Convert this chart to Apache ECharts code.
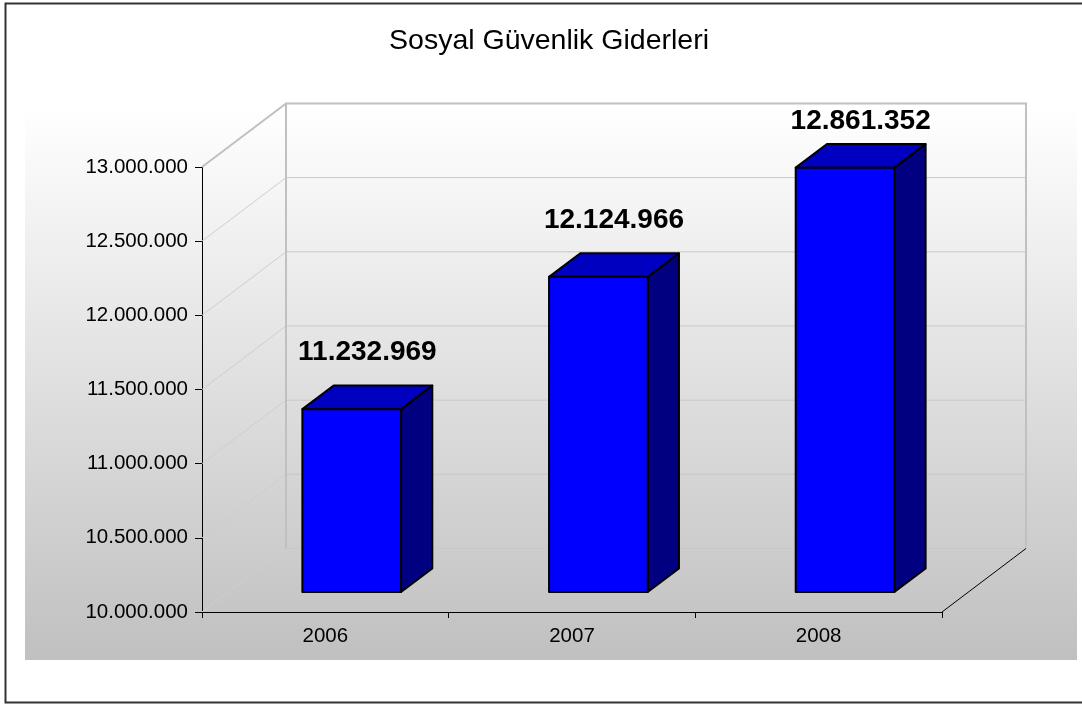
<!DOCTYPE html>
<html>
<head>
<meta charset="utf-8">
<title>Sosyal Güvenlik Giderleri</title>
<script src="https://cdn.jsdelivr.net/npm/echarts@6/dist/echarts.min.js"></script>
<style>
html,body{margin:0;padding:0;background:#fff;}
#chart{width:1082px;height:704px;}
</style>
</head>
<body>
<div id="chart"></div>
<script>
var years = ['2006', '2007', '2008'];
var giderler = [11232969, 12124966, 12861352];
var yMin = 10000000, yMax = 13000000, yStep = 500000;

// 3D derinlik (px) - excel tarzi kutu
var DX = 84, DY = -63.5;
var F1 = 0.314, F2 = 0.686; // bar on yuz / arka yuz derinligi
var FONT = '"Liberation Sans", Arial, sans-serif';

function fmt(v) {
    return String(v).replace(/\B(?=(\d{3})+(?!\d))/g, '.');
}

var chart = echarts.init(document.getElementById('chart'));

// duvarlar ve zemin
function frameItem(params, api) {
    var cs = params.coordSys;
    var x0 = cs.x, x1 = cs.x + cs.width;
    var yTop = api.coord([0, yMax])[1];
    var yBot = api.coord([0, yMin])[1];
    var kids = [];
    for (var v = yMin; v <= yMax; v += yStep) {
        var y = api.coord([0, v])[1];
        kids.push({type: 'line', shape: {x1: x0, y1: y, x2: x0 + DX, y2: y + DY},
            style: {stroke: v === yMax ? '#c0c0c0' : '#cecece', lineWidth: v === yMax ? 2 : 1}});
        if (v < yMax) {
            kids.push({type: 'line', shape: {x1: x0 + DX, y1: y + DY, x2: x1 + DX, y2: y + DY},
                style: {stroke: '#c8c8c8', lineWidth: 1}});
        }
    }
    kids.push({type: 'polyline', shape: {points: [[x0 + DX, yBot + DY], [x0 + DX, yTop + DY], [x1 + DX, yTop + DY], [x1 + DX, yBot + DY]]},
        style: {stroke: '#c0c0c0', lineWidth: 2, fill: null}});
    kids.push({type: 'line', shape: {x1: x1, y1: yBot, x2: x1 + DX, y2: yBot + DY},
        style: {stroke: '#000', lineWidth: 1}});
    return {type: 'group', children: kids};
}

// 3D kutu bar
function barItem(params, api) {
    var i = api.value(0), val = api.value(1);
    var base = api.coord([i, yMin]);
    var top = api.coord([i, val]);
    var w = api.size([1, 0])[0] * 0.4;
    var xl = base[0] - w / 2 + F1 * DX, xr = xl + w;
    var yb = base[1] + F1 * DY, yt = top[1] + F1 * DY;
    var ddx = (F2 - F1) * DX, ddy = (F2 - F1) * DY;
    var ly = Math.max(yt + ddy - 33, params.coordSys.y - 46);
    function st(c) { return {fill: c, stroke: '#000', lineWidth: 2, lineJoin: 'round'}; }
    return {type: 'group', children: [
        {type: 'polygon', shape: {points: [[xr, yt], [xr + ddx, yt + ddy], [xr + ddx, yb + ddy], [xr, yb]]}, style: st('#000080')},
        {type: 'polygon', shape: {points: [[xl, yt], [xr, yt], [xr + ddx, yt + ddy], [xl + ddx, yt + ddy]]}, style: st('#0000c0')},
        {type: 'rect', shape: {x: xl, y: yt, width: w, height: yb - yt}, style: st('#0000ff')},
        {type: 'text', x: xl + w / 2 + ddx / 2, y: ly, style: {
            text: fmt(val), fill: '#000', font: 'bold 28px ' + FONT,
            align: 'center', verticalAlign: 'middle', textAlign: 'center', textVerticalAlign: 'middle'}}
    ]};
}

var option = {
    animation: false,
    backgroundColor: '#fff',
    title: {
        text: 'Sosyal Güvenlik Giderleri',
        left: 549, top: 27, padding: 0, textAlign: 'center',
        textStyle: {fontSize: 28.5, fontWeight: 'normal', color: '#000', fontFamily: FONT}
    },
    graphic: [
        {type: 'rect', z: -10, shape: {x: 25, y: 107, width: 1052, height: 553},
            style: {fill: new echarts.graphic.LinearGradient(0, 0, 0, 1, [
                {offset: 0, color: '#ffffff'}, {offset: 1, color: '#c0c0c0'}])}},
        {type: 'rect', z: -9, shape: {x: 5.5, y: 3.5, width: 1100, height: 699},
            style: {fill: null, stroke: '#333', lineWidth: 2}}
    ],
    grid: {left: 202, right: 140, top: 167, bottom: 92, outerBoundsMode: 'none'},
    xAxis: {
        type: 'category',
        data: years,
        axisLine: {lineStyle: {color: '#000', width: 1}},
        axisTick: {show: true, length: 6, lineStyle: {color: '#000'}},
        axisLabel: {color: '#000', fontSize: 20.5, fontFamily: FONT, margin: 14},
        splitLine: {show: false}
    },
    yAxis: {
        type: 'value',
        min: yMin, max: yMax, interval: yStep,
        axisLine: {show: true, lineStyle: {color: '#000', width: 1}},
        axisTick: {show: true, length: 7, lineStyle: {color: '#000'}},
        axisLabel: {color: '#000', fontSize: 20.5, fontFamily: FONT, margin: 14, formatter: fmt},
        splitLine: {show: false}
    },
    series: [
        {type: 'custom', z: 1, clip: false, silent: true, renderItem: frameItem, data: [[0, yMin]]},
        {type: 'custom', z: 3, clip: false, renderItem: barItem,
            data: giderler.map(function (v, i) { return [i, v]; })}
    ]
};
chart.setOption(option);
</script>
</body>
</html>
